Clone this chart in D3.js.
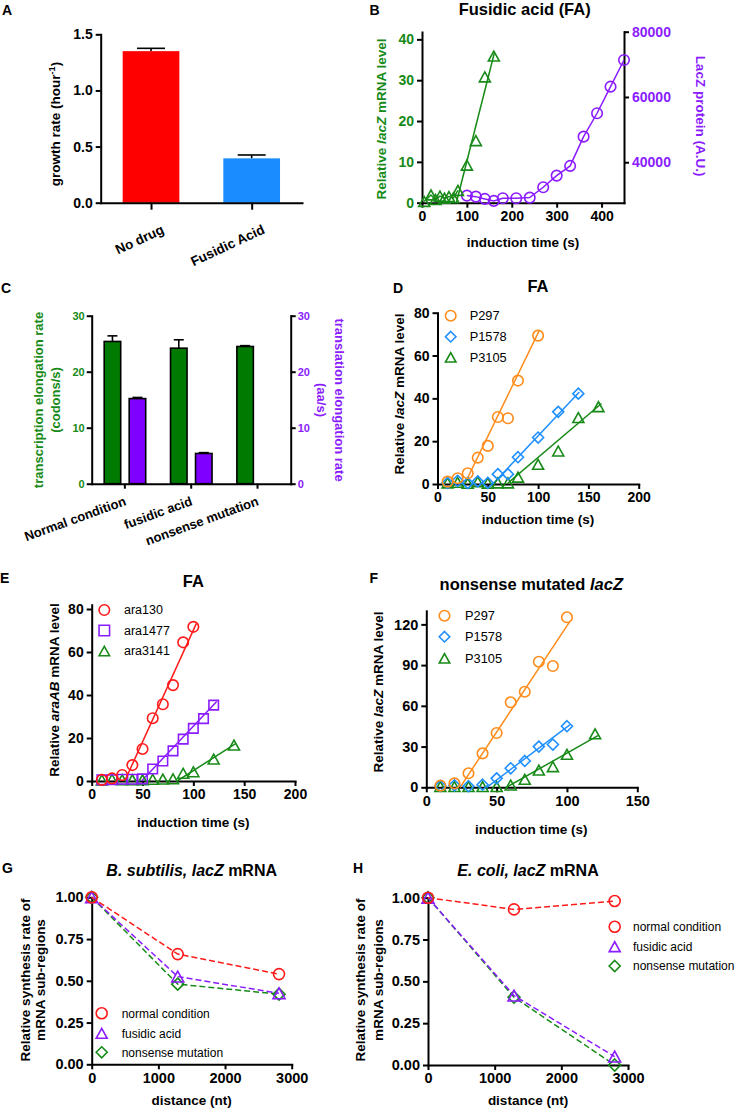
<!DOCTYPE html>
<html>
<head>
<meta charset="utf-8">
<script src="https://cdn.jsdelivr.net/npm/d3@7"></script>
<style>
html,body{margin:0;padding:0;background:#fff;}
svg{display:block;}
</style>
</head>
<body>
<script>
// ================= DATA =================
// Panel A
const aCategories = ["No drug", "Fusidic Acid"];
const aGrowthRate = [1.35, 0.395];
const aGrowthErr = [0.025, 0.03];
const aTicks = [0, 0.5, 1.0, 1.5];

// Panel B
const bMrnaTime = [5, 20, 30, 40, 50, 60, 70, 80, 100, 120, 140, 160];
const bMrnaLevel = [0.3, 1.9, 0.8, 1.6, 1.1, 1.5, 1.2, 3.0, 9.2, 15.2, 30.8, 35.9];
const bMrnaFit = [[76.5, 0], [161, 36.6]];
const bProteinTime = [100, 120, 140, 160, 180, 210, 240, 270, 300, 330, 360, 390, 420, 450];
const bProtein = [29770, 29460, 28760, 28150, 28970, 28970, 29160, 32340, 35900, 38870, 47840, 55010, 63155, 71330];
const bXTicks = [0, 100, 200, 300, 400];
const bLeftTicks = [0, 10, 20, 30, 40];
const bRightTicks = [40000, 60000, 80000];

// Panel C
const cCategories = ["Normal condition", "fusidic acid", "nonsense mutation"];
const cTranscription = [25.4, 24.2, 24.5];
const cTranscriptionErr = [1.0, 1.5, 0.15];
const cTranslation = [15.2, 5.4, null];
const cTranslationErr = [0.2, 0.15, null];
const cTicks = [0, 10, 20, 30];

// Panel D (FA, lacZ)
const dNames = ["P297", "P1578", "P3105"];
const dP297Time = [10, 20, 30, 40, 50, 60, 70, 80, 100];
const dP297 = [1.1, 2.7, 5.0, 12.3, 17.8, 31.3, 30.7, 48.3, 69.3];
const dP297Fit = [[27, 0], [101, 71.5]];
const dP1578Time = [10, 20, 30, 40, 50, 60, 70, 80, 100, 120, 140];
const dP1578 = [0.5, 1.5, 0.4, 1.2, 0.5, 4.6, 4.6, 12.5, 21.7, 33.7, 42.2];
const dP1578Fit = [[55, 0], [141, 43]];
const dP3105Time = [10, 20, 30, 40, 50, 60, 70, 80, 100, 120, 140, 160];
const dP3105 = [0.5, 0.8, 0.3, 1.0, 0.4, 0.5, 0.5, 3.2, 9.2, 15.4, 31.0, 36.1];
const dP3105Fit = [[69, 0], [163, 37.6]];
const dXTicks = [0, 50, 100, 150, 200];
const dYTicks = [0, 20, 40, 60, 80];

// Panel E (FA, araAB)
const eNames = ["ara130", "ara1477", "ara3141"];
const eAra130Time = [10, 20, 30, 40, 50, 60, 70, 80, 90, 100];
const eAra130 = [0.5, 1.2, 2.8, 7.4, 14.9, 29.2, 35.7, 44.6, 64.5, 71.7];
const eAra130Fit = [[32.5, 0], [103, 73.3]];
const eAra1477Time = [10, 20, 30, 40, 50, 60, 70, 80, 90, 100, 110, 120];
const eAra1477 = [0.5, 0.6, 0.8, 0.8, 1.0, 5.6, 9.3, 14.0, 19.5, 24.5, 29.0, 35.3];
const eAra1477Fit = [[49, 0], [123, 37]];
const eAra3141Time = [10, 20, 30, 40, 50, 60, 70, 80, 90, 100, 120, 140];
const eAra3141 = [0.5, 0.8, 0.6, 0.6, 0.6, 0.8, 0.9, 1.0, 3.6, 4.3, 10.2, 16.7];
const eAra3141Fit = [[84, 0], [142, 17.5]];
const eXTicks = [0, 50, 100, 150, 200];
const eYTicks = [0, 20, 40, 60, 80];

// Panel F (nonsense mutated lacZ)
const fNames = ["P297", "P1578", "P3105"];
const fP297Time = [10, 20, 30, 40, 50, 60, 70, 80, 90, 100];
const fP297 = [1.2, 2.9, 10.3, 25.0, 40.0, 62.6, 70.4, 92.5, 89.3, 125.2];
const fP297Fit = [[24, 0], [102, 122]];
const fP1578Time = [10, 20, 30, 40, 50, 60, 70, 80, 90, 100];
const fP1578 = [1.0, 1.5, 0.8, 1.9, 6.6, 14.0, 19.4, 30.0, 31.5, 45.0];
const fP1578Fit = [[43, 0], [102, 46]];
const fP3105Time = [10, 20, 30, 40, 50, 60, 70, 80, 90, 100, 120];
const fP3105 = [0.5, 0.5, 0.5, 0.5, 0.5, 1.7, 5.9, 12.7, 15.2, 24.3, 39.4];
const fP3105Fit = [[57, 0], [122, 38]];
const fXTicks = [0, 50, 100, 150];
const fYTicks = [0, 30, 60, 90, 120];

// Panel G (B. subtilis)
const gNames = ["normal condition", "fusidic acid", "nonsense mutation"];
const gDistance = [0, 1290, 2810];
const gNormal = [1.0, 0.66, 0.54];
const gFusidic = [1.0, 0.525, 0.425];
const gNonsense = [1.0, 0.48, 0.42];

// Panel H (E. coli)
const hDistance = [0, 1290, 2800];
const hNormal = [1.0, 0.93, 0.98];
const hFusidic = [1.0, 0.415, 0.05];
const hNonsense = [1.0, 0.405, 0.0];
const ghXTicks = [0, 1000, 2000, 3000];
const ghYTicks = [0, 0.25, 0.5, 0.75, 1.0];

// ================= STYLE =================
const FONT = "Arial, 'Liberation Sans', Helvetica, sans-serif";
const GREEN = "#178a17", GREEN_BAR = "#007a00";
const PURPLE = "#8a1cff", PURPLE_BAR = "#8000ff";
const ORANGE = "#ff8c1a", BLUE = "#1e8fff", RED = "#ff1a1a";

const svg = d3.select("body").append("svg").attr("width", 736).attr("height", 1108);
svg.append("rect").attr("width", 736).attr("height", 1108).attr("fill", "#fff");

// ================= HELPERS =================
function label(x, y, parts, o = {}) {
  const size = o.size || 13.5;
  const t = svg.append("text")
    .attr("transform", `translate(${x},${y}) rotate(${o.rotate || 0})`)
    .attr("text-anchor", o.anchor || "middle")
    .attr("dy", o.dy === undefined ? "0.35em" : o.dy)
    .attr("font-size", size)
    .attr("font-weight", o.weight || "bold")
    .attr("fill", o.color || "#000")
    .attr("font-family", FONT);
  const list = typeof parts === "string" ? [{ t: parts }] : parts;
  list.forEach(p => {
    const ts = t.append("tspan").text(p.t).attr("font-style", p.i ? "italic" : "normal");
    if (p.sup) ts.attr("font-size", size * 0.68).attr("baseline-shift", "super");
  });
  return t;
}

function styleAxis(g, size, color) {
  g.attr("font-family", FONT).attr("font-size", size).attr("font-weight", "bold");
  g.select(".domain").attr("stroke", "#000").attr("stroke-width", 2).attr("stroke-linecap", "square");
  g.selectAll(".tick line").attr("stroke", "#000").attr("stroke-width", 2);
  g.selectAll(".tick text").attr("fill", color || "#000");
}
function axis(gen, tx, ty, size, color) {
  const g = svg.append("g").attr("transform", `translate(${tx},${ty})`).call(gen);
  styleAxis(g, size, color);
  return g;
}

function shapePath(shape, s) {
  const r = s / 2;
  if (shape === "circle") return `M${r},0A${r},${r} 0 1,1 ${-r},0A${r},${r} 0 1,1 ${r},0Z`;
  if (shape === "triangle") { const h = s * 0.9; return `M0,${-h / 2}L${r},${h / 2}L${-r},${h / 2}Z`; }
  if (shape === "diamond") return `M0,${-r}L${r},0L0,${r}L${-r},0Z`;
  if (shape === "square") return `M${-r},${-r}h${s}v${s}h${-s}Z`;
}
function drawMarkers(x, y, times, vals, shape, color, size) {
  svg.append("g").selectAll("path").data(d3.zip(times, vals)).join("path")
    .attr("d", shapePath(shape, size))
    .attr("transform", d => `translate(${x(d[0])},${y(d[1])})`)
    .attr("fill", "none").attr("stroke", color).attr("stroke-width", 1.6);
}
function drawLine(x, y, pts, color, dash) {
  svg.append("path").datum(pts)
    .attr("d", d3.line().x(d => x(d[0])).y(d => y(d[1])))
    .attr("fill", "none").attr("stroke", color).attr("stroke-width", 1.5)
    .attr("stroke-dasharray", dash || null);
}
function legend(xm, xt, ys, names, shapes, colors, size, fs) {
  names.forEach((n, i) => {
    svg.append("path").attr("d", shapePath(shapes[i], size))
      .attr("transform", `translate(${xm},${ys[i]})`)
      .attr("fill", "none").attr("stroke", colors[i]).attr("stroke-width", 1.6);
    label(xt, ys[i], n, { anchor: "start", weight: "normal", size: fs });
  });
}
function errorBar(cx, yv, ye, capW, color) {
  svg.append("line").attr("x1", cx).attr("x2", cx).attr("y1", yv).attr("y2", ye)
    .attr("stroke", color || "#000").attr("stroke-width", 1.6);
  svg.append("line").attr("x1", cx - capW / 2).attr("x2", cx + capW / 2).attr("y1", ye).attr("y2", ye)
    .attr("stroke", color || "#000").attr("stroke-width", 1.6);
}
function letter(x, y, s) { label(x, y, s, { anchor: "start", size: 14 }); }
const intFmt = d3.format("d");

// ================= PANEL A =================
{
  const x = d3.scalePoint().domain(aCategories).range([100.7, 302]).padding(0.5);
  const y = d3.scaleLinear().domain([0, 1.5]).range([202.7, 34.3]);
  const bw = 56.7, fills = ["#ff0000", "#1a8cff"];
  aCategories.forEach((c, i) => {
    errorBar(x(c), y(aGrowthRate[i]), y(aGrowthRate[i] + aGrowthErr[i]), 28);
  });
  svg.append("g").selectAll("rect").data(aCategories).join("rect")
    .attr("x", d => x(d) - bw / 2).attr("width", bw)
    .attr("y", (d, i) => y(aGrowthRate[i]))
    .attr("height", (d, i) => y(0) - y(aGrowthRate[i]))
    .attr("fill", (d, i) => fills[i]);
  axis(d3.axisLeft(y).tickValues(aTicks).tickFormat(d3.format(".1f")).tickSize(5).tickPadding(3).tickSizeOuter(0), 100.7, 0, 14);
  axis(d3.axisBottom(x).tickSize(7).tickFormat("").tickSizeOuter(0), 0, 202.7, 14);
  aCategories.forEach(c => label(x(c) + 14, 202.7 + 30, c, { anchor: "end", rotate: -25, dy: 0, size: 13.5 }));
  label(55, 124, [{ t: "growth rate (hour" }, { t: "-1", sup: true }, { t: ")" }], { rotate: -90 });
  letter(2, 10, "A");
}

// ================= PANEL B =================
{
  const x = d3.scaleLinear().domain([0, 450]).range([422, 624]);
  const yL = d3.scaleLinear().domain([0, 41.8]).range([202.7, 32]);
  const yR = d3.scaleLinear().domain([27600, 80000]).range([202.7, 31.7]);
  axis(d3.axisBottom(x).tickValues(bXTicks).tickSize(5).tickPadding(3).tickSizeOuter(0), 0, 202.7, 14);
  axis(d3.axisLeft(yL).tickValues(bLeftTicks).tickSize(5).tickPadding(3).tickSizeOuter(0), 422, 0, 14, GREEN);
  axis(d3.axisRight(yR).tickValues(bRightTicks).tickFormat(intFmt).tickSize(5).tickPadding(3).tickSizeOuter(0), 624, 0, 14, PURPLE);
  drawLine(x, yR, d3.zip(bProteinTime, bProtein), PURPLE);
  drawMarkers(x, yR, bProteinTime, bProtein, "circle", PURPLE, 10.5);
  const early = d3.zip(bMrnaTime, bMrnaLevel).filter(d => d[0] <= 80);
  drawLine(x, yL, early, GREEN);
  drawLine(x, yL, bMrnaFit, GREEN);
  drawMarkers(x, yL, bMrnaTime, bMrnaLevel, "triangle", GREEN, 11);
  label(524.7, 9, "Fusidic acid (FA)", { size: 16.5 });
  label(523, 242.3, "induction time (s)");
  label(381, 119, [{ t: "Relative " }, { t: "lacZ", i: true }, { t: " mRNA level" }], { rotate: -90, color: GREEN });
  label(701, 116, "LacZ protein (A.U.)", { rotate: 90, color: PURPLE });
  letter(369.5, 10, "B");
}

// ================= PANEL C =================
{
  const x = d3.scaleBand().domain(cCategories).range([91.7, 290.7]);
  const sub = d3.scaleBand().domain(["tx", "tl"]).range([12.5, 54]).paddingInner(0.34);
  const y = d3.scaleLinear().domain([0, 30]).range([483.7, 315.7]);
  const bw = sub.bandwidth();
  cCategories.forEach((c, i) => {
    const gx = x(c) + sub("tx");
    errorBar(gx + bw / 2, y(cTranscription[i]), y(cTranscription[i] + cTranscriptionErr[i]), 10);
    svg.append("rect").attr("x", gx).attr("width", bw).attr("y", y(cTranscription[i]))
      .attr("height", y(0) - y(cTranscription[i])).attr("fill", GREEN_BAR).attr("stroke", "#000").attr("stroke-width", 1.6);
    if (cTranslation[i] != null) {
      const px = x(c) + sub("tl");
      errorBar(px + bw / 2, y(cTranslation[i]), y(cTranslation[i] + cTranslationErr[i]), 10);
      svg.append("rect").attr("x", px).attr("width", bw).attr("y", y(cTranslation[i]))
        .attr("height", y(0) - y(cTranslation[i])).attr("fill", PURPLE_BAR).attr("stroke", "#000").attr("stroke-width", 1.6);
    }
  });
  axis(d3.axisLeft(y).tickValues(cTicks).tickSize(5).tickPadding(2).tickSizeOuter(0), 91.7, 0, 11, GREEN);
  axis(d3.axisRight(y).tickValues(cTicks).tickSize(5).tickPadding(2).tickSizeOuter(0), 290.7, 0, 11, PURPLE);
  axis(d3.axisBottom(x).tickSize(5).tickFormat("").tickSizeOuter(0), 0, 483.7, 11);
  cCategories.forEach(c => label(x(c) + x.bandwidth() / 2 + 2, 483.7 + 21, c, { anchor: "end", rotate: -20, dy: 0, size: 13 }));
  label(38, 400, "transcription elongation rate", { rotate: -90, color: GREEN, size: 13 });
  label(55, 400, "(codons/s)", { rotate: -90, color: GREEN, size: 13 });
  label(340, 400, "translation elongation rate", { rotate: 90, color: PURPLE, size: 13 });
  label(321.7, 400, "(aa/s)", { rotate: 90, color: PURPLE, size: 13 });
  letter(1, 288, "C");
}

// ================= PANEL D =================
{
  const x = d3.scaleLinear().domain([0, 200]).range([437.5, 638.7]);
  const y = d3.scaleLinear().domain([0, 80]).range([484, 312.7]);
  axis(d3.axisBottom(x).tickValues(dXTicks).tickSize(5).tickPadding(3).tickSizeOuter(0), 0, 484, 14);
  axis(d3.axisLeft(y).tickValues(dYTicks).tickSize(5).tickPadding(3).tickSizeOuter(0), 437.5, 0, 14);
  drawLine(x, y, dP3105Fit, GREEN);
  drawLine(x, y, dP1578Fit, BLUE);
  drawLine(x, y, dP297Fit, ORANGE);
  drawMarkers(x, y, dP3105Time, dP3105, "triangle", GREEN, 11);
  drawMarkers(x, y, dP1578Time, dP1578, "diamond", BLUE, 11);
  drawMarkers(x, y, dP297Time, dP297, "circle", ORANGE, 10.5);
  legend(450.7, 469.7, [315.7, 336.7, 357.3], dNames, ["circle", "diamond", "triangle"], [ORANGE, BLUE, GREEN], 10.5, 12.8);
  label(538, 286.7, "FA", { size: 16.5 });
  label(538, 519.3, "induction time (s)");
  label(399.7, 394, [{ t: "Relative " }, { t: "lacZ", i: true }, { t: " mRNA level" }], { rotate: -90 });
  letter(393, 288, "D");
}

// ================= PANEL E =================
{
  const x = d3.scaleLinear().domain([0, 200]).range([91.7, 295]);
  const y = d3.scaleLinear().domain([0, 82]).range([781, 604.7]);
  axis(d3.axisBottom(x).tickValues(eXTicks).tickSize(5).tickPadding(3).tickSizeOuter(0), 0, 781, 14);
  axis(d3.axisLeft(y).tickValues(eYTicks).tickSize(5).tickPadding(3).tickSizeOuter(0), 91.7, 0, 14);
  drawLine(x, y, eAra3141Fit, GREEN);
  drawLine(x, y, eAra1477Fit, PURPLE);
  drawLine(x, y, eAra130Fit, RED);
  drawMarkers(x, y, eAra3141Time, eAra3141, "triangle", GREEN, 11);
  drawMarkers(x, y, eAra1477Time, eAra1477, "square", PURPLE, 9.5);
  drawMarkers(x, y, eAra130Time, eAra130, "circle", RED, 10.5);
  legend(104.3, 124, [610, 630.5, 651], eNames, ["circle", "square", "triangle"], [RED, PURPLE, GREEN], 10.5, 12.5);
  label(193.3, 581.7, "FA", { size: 16.5 });
  label(193.3, 822.3, "induction time (s)");
  label(54, 690, [{ t: "Relative " }, { t: "araAB", i: true }, { t: " mRNA level" }], { rotate: -90 });
  letter(0, 578, "E");
}

// ================= PANEL F =================
{
  const x = d3.scaleLinear().domain([0, 150]).range([426.3, 637.3]);
  const y = d3.scaleLinear().domain([0, 130]).range([787.3, 610.8]);
  axis(d3.axisBottom(x).tickValues(fXTicks).tickSize(5).tickPadding(3).tickSizeOuter(0), 0, 787.3, 14.5);
  axis(d3.axisLeft(y).tickValues(fYTicks).tickSize(5).tickPadding(3).tickSizeOuter(0), 426.3, 0, 14.5);
  drawLine(x, y, fP3105Fit, GREEN);
  drawLine(x, y, fP1578Fit, BLUE);
  drawLine(x, y, fP297Fit, ORANGE);
  drawMarkers(x, y, fP3105Time, fP3105, "triangle", GREEN, 11);
  drawMarkers(x, y, fP1578Time, fP1578, "diamond", BLUE, 11);
  drawMarkers(x, y, fP297Time, fP297, "circle", ORANGE, 10.5);
  legend(444.5, 465, [615.7, 636.7, 658.3], fNames, ["circle", "diamond", "triangle"], [ORANGE, BLUE, GREEN], 10.5, 12.8);
  label(531.3, 584.3, [{ t: "nonsense mutated " }, { t: "lacZ", i: true }], { size: 16.5 });
  label(531.3, 829.3, "induction time (s)");
  label(378, 692, [{ t: "Relative " }, { t: "lacZ", i: true }, { t: " mRNA level" }], { rotate: -90 });
  letter(369.5, 578, "F");
}

// ================= PANELS G & H =================
function distPanel(cfg) {
  const x = d3.scaleLinear().domain([0, 3000]).range([cfg.x0, cfg.x0 + 200]);
  const y = d3.scaleLinear().domain([0, 1]).range([cfg.y0, cfg.y1]);
  axis(d3.axisBottom(x).tickValues(ghXTicks).tickFormat(intFmt).tickSize(5).tickPadding(3).tickSizeOuter(0), 0, cfg.y0, 14.5);
  axis(d3.axisLeft(y).tickValues(ghYTicks).tickFormat(d3.format(".2f")).tickSize(5).tickPadding(3).tickSizeOuter(0), cfg.x0, 0, 14.5);
  const dash = "6,3";
  drawLine(x, y, d3.zip(cfg.dist, cfg.nonsense), GREEN, dash);
  drawLine(x, y, d3.zip(cfg.dist, cfg.fusidic), PURPLE, dash);
  drawLine(x, y, d3.zip(cfg.dist, cfg.normal), RED, dash);
  drawMarkers(x, y, cfg.dist, cfg.nonsense, "diamond", GREEN, 12);
  drawMarkers(x, y, cfg.dist, cfg.fusidic, "triangle", PURPLE, 12);
  drawMarkers(x, y, cfg.dist, cfg.normal, "circle", RED, 11);
  legend(cfg.lx, cfg.ltx, cfg.ly, gNames, ["circle", "triangle", "diamond"], [RED, PURPLE, GREEN], 11, 12);
  const cx = cfg.x0 + 100;
  label(cx, 870, cfg.title, { size: 16 });
  label(cx, 1100, "distance (nt)");
  label(cfg.yl1, 980, "Relative synthesis rate of", { rotate: -90 });
  label(cfg.yl2, 980, "mRNA sub-regions", { rotate: -90 });
}
distPanel({
  x0: 91.7, y0: 1064.3, y1: 897.3, dist: gDistance, normal: gNormal, fusidic: gFusidic, nonsense: gNonsense,
  lx: 101.7, ltx: 121.7, ly: [1013.3, 1033.3, 1052.3],
  title: [{ t: "B. subtilis, lacZ", i: true }, { t: " mRNA" }], yl1: 25, yl2: 40
});
distPanel({
  x0: 428, y0: 1065, y1: 897.7, dist: hDistance, normal: hNormal, fusidic: hFusidic, nonsense: hNonsense,
  lx: 614.7, ltx: 633, ly: [926.7, 946.7, 966],
  title: [{ t: "E. coli, lacZ", i: true }, { t: " mRNA" }], yl1: 360, yl2: 378
});
letter(2, 868, "G");
letter(353, 868, "H");
</script>
</body>
</html>
